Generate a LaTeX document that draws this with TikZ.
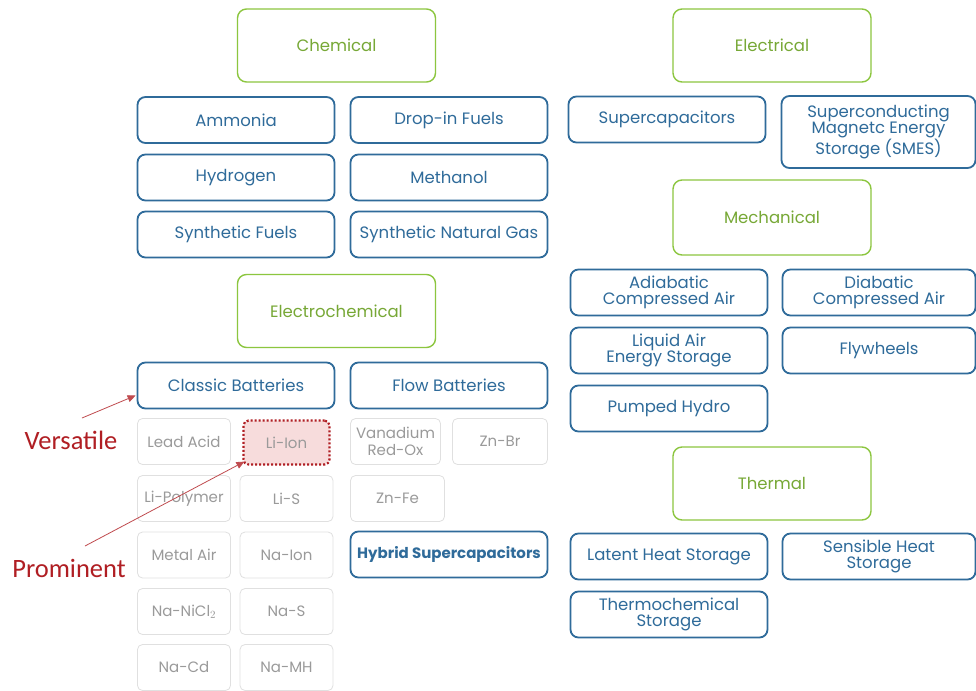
\documentclass[tikz,border=0pt]{standalone}
\usepackage{fontspec}
\setmainfont{Poppins}
\newfontfamily\notefont{Carlito}
\usetikzlibrary{arrows.meta}
\definecolor{catgreen}{HTML}{8CC63F}
\definecolor{techblue}{HTML}{2F6B9A}
\definecolor{dimgray}{HTML}{9A9A9A}
\definecolor{noteRed}{HTML}{B01E23}
\definecolor{ionfill}{HTML}{F7DCDC}

\begin{document}
\begin{tikzpicture}[x=1pt,y=-1pt,
  catbox/.style={draw=catgreen,line width=1.4pt,rounded corners=9pt,text=catgreen!85!black,
    minimum width=198pt,minimum height=73pt,font=\fontsize{16.5}{17}\selectfont},
  techbox/.style={draw=techblue,line width=1.8pt,rounded corners=8pt,text=techblue,align=center,
    minimum width=197pt,minimum height=46pt,inner sep=1pt,font=\fontsize{16.5}{16.5}\selectfont},
  battbox/.style={draw=black!12,line width=0.8pt,rounded corners=5pt,text=dimgray,align=center,
    minimum width=93pt,minimum height=46pt,inner sep=1pt,font=\fontsize{15}{17}\selectfont},
  note/.style={text=noteRed,font=\notefont\fontsize{26.5}{30}\selectfont},
  pointer/.style={draw=noteRed!80,line width=0.8pt,-{Triangle[length=8pt,width=7pt]}}]
\useasboundingbox[fill=white] (0,0) rectangle (976,690);
% categories
\node[catbox] (chemical) at (336.5,45.5) {Chemical};
\node[catbox] (electrical) at (772,45.5) {Electrical};
\node[catbox] (electrochemical) at (336.5,311) {Electrochemical};
\node[catbox,minimum height=75pt] (mechanical) at (772,217.5) {Mechanical};
\node[catbox] (thermal) at (772,483.5) {Thermal};
% chemical
\node[techbox] (ammonia) at (236,120) {Ammonia};
\node[techbox] (dropin) at (449,120) {Drop-in Fuels};
\node[techbox] (hydrogen) at (236,177.5) {Hydrogen};
\node[techbox] (methanol) at (449,177.5) {Methanol};
\node[techbox] (synfuels) at (236,234.5) {Synthetic Fuels};
\node[techbox] (syngas) at (449,234.5) {Synthetic Natural Gas};
% electrical
\node[techbox] (supercap) at (667,119.5) {Supercapacitors};
\node[techbox,minimum width=194pt,minimum height=72pt] (smes) at (878.5,132) {Superconducting\\Magnetc Energy\\Storage (SMES)};
% mechanical
\node[techbox] (adiabatic) at (669,292.5) {Adiabatic\\Compressed Air};
\node[techbox,minimum width=193pt] (diabatic) at (879,292.5) {Diabatic\\Compressed Air};
\node[techbox] (liquidair) at (669,350.5) {Liquid Air\\Energy Storage};
\node[techbox,minimum width=193pt] (flywheels) at (879,350.5) {Flywheels};
\node[techbox] (pumped) at (669,408.5) {Pumped Hydro};
% thermal
\node[techbox] (latent) at (669,556.5) {Latent Heat Storage};
\node[techbox,minimum width=193pt] (sensible) at (879,556.5) {Sensible Heat\\Storage};
\node[techbox] (thermochem) at (669,614.5) {Thermochemical\\Storage};
% electrochemical
\node[techbox] (classic) at (236,385.5) {Classic Batteries};
\node[techbox] (flow) at (449,385.5) {Flow Batteries};
\node[techbox,font=\fontsize{15}{16}\selectfont\bfseries] (hybrid) at (449,554.5) {Hybrid Supercapacitors};
\node[battbox] (leadacid) at (184,441.5) {Lead Acid};
\node[battbox,draw=noteRed,fill=ionfill,line width=2.2pt,dash pattern=on 2pt off 2pt,
  minimum width=86pt,minimum height=44pt] (liion) at (286.5,442.5) {Li-Ion};
\node[battbox] (lipolymer) at (184,498.5) {Li-Polymer};
\node[battbox] (lis) at (286.5,498.5) {Li-S};
\node[battbox] (metalair) at (184,555) {Metal Air};
\node[battbox] (naion) at (286.5,555) {Na-Ion};
\node[battbox] (nanicl) at (184,611.5) {Na-NiCl$_2$};
\node[battbox] (nas) at (286.5,611.5) {Na-S};
\node[battbox] (nacd) at (184,667.5) {Na-Cd};
\node[battbox] (namh) at (286.5,667.5) {Na-MH};
\node[battbox,minimum width=90pt,font=\fontsize{15}{17}\selectfont] (vanadium) at (395.5,441.5) {Vanadium\\Red-Ox};
\node[battbox,minimum width=95pt] (znbr) at (500,441.5) {Zn-Br};
\node[battbox,minimum width=94pt] (znfe) at (397.5,498.5) {Zn-Fe};
% notes
\node[note] (versatile) at (71,440) {Versatile};
\node[note] (prominent) at (69,568) {Prominent};
\coordinate (vtail) at (82,418);
\coordinate (ptail) at (85,546);
\draw[pointer] (vtail) -- ([xshift=-1pt,yshift=-10pt]classic.west);
\draw[pointer] (ptail) -- ([xshift=2pt,yshift=4pt]liion.south west);
\end{tikzpicture}
\end{document}
